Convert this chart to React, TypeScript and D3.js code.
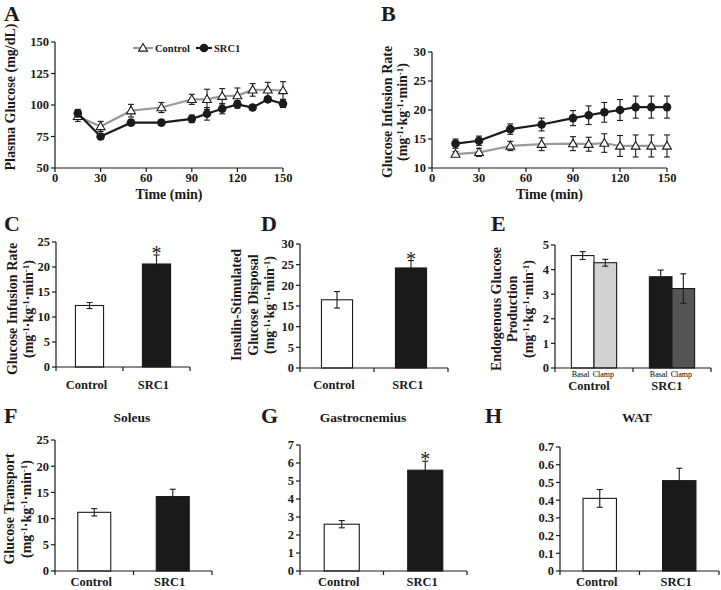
import React from "react";
import * as d3 from "d3";

// ---------- DATA ----------
const timePoints = [15, 30, 50, 70, 90, 100, 110, 120, 130, 140, 150];
const timeTicks = [0, 30, 60, 90, 120, 150];

const glucoseControl = [91, 83, 95.5, 98, 104.5, 104.5, 107, 107.5, 112, 112, 111.5];
const glucoseControlErr = [4, 4, 5, 4, 4, 8, 6, 6, 5, 6, 7];
const glucoseSRC1 = [93.5, 75, 86, 86, 89, 93, 97, 100.5, 98, 104.5, 101];
const glucoseSRC1Err = [3, 2, 2, 2, 3, 5, 4, 3, 2, 2, 3];
const glucoseTicks = [50, 75, 100, 125, 150];

const girControl = [12.4, 12.7, 13.8, 14.1, 14.2, 14.1, 14.3, 13.8, 13.8, 13.8, 13.8];
const girControlErr = [0.4, 0.7, 0.8, 1.1, 1.2, 1.2, 1.6, 1.8, 1.9, 1.9, 1.9];
const girSRC1 = [14.2, 14.7, 16.7, 17.5, 18.6, 19.1, 19.6, 20.0, 20.5, 20.5, 20.5];
const girSRC1Err = [0.8, 0.8, 0.9, 1.1, 1.3, 1.6, 1.7, 1.8, 1.9, 1.9, 1.9];
const girTicks = [10, 15, 20, 25, 30];

const groups = ["Control", "SRC1"];
const girMean = [12.3, 20.6];
const girMeanErr = [0.6, 1.8];
const girMeanTicks = [0, 5, 10, 15, 20, 25];

const disposalMean = [16.5, 24.2];
const disposalErr = [2.0, 1.8];
const disposalTicks = [0, 5, 10, 15, 20, 25, 30];

const egpConditions = ["Basal", "Clamp"];
const egpBasal = [4.57, 3.71];
const egpBasalErr = [0.16, 0.27];
const egpClamp = [4.28, 3.23];
const egpClampErr = [0.14, 0.6];
const egpTicks = [0, 1, 2, 3, 4, 5];

const soleus = [11.2, 14.2];
const soleusErr = [0.7, 1.4];
const soleusTicks = [0, 5, 10, 15, 20, 25];

const gastro = [2.6, 5.6];
const gastroErr = [0.2, 0.5];
const gastroTicks = [0, 1, 2, 3, 4, 5, 6, 7];

const wat = [0.41, 0.51];
const watErr = [0.05, 0.07];
const watTicks = [0, 0.1, 0.2, 0.3, 0.4, 0.5, 0.6, 0.7];

// ---------- STYLE ----------
const FONT = "'Liberation Serif', 'Times New Roman', serif";
const INK = "#1a1a1a";
const TRI_SIZE = 34;

const UnitLabel = () => (
  <>
    (mg<tspan dy={-4} fontSize={9}>-1</tspan>
    <tspan dy={4}>·kg</tspan>
    <tspan dy={-4} fontSize={9}>-1</tspan>
    <tspan dy={4}>·min</tspan>
    <tspan dy={-4} fontSize={9}>-1</tspan>
    <tspan dy={4}>)</tspan>
  </>
);

type YLabelLine = string | "UNIT";

function YLabel({ xs, cy, lines }: { xs: number[]; cy: number; lines: YLabelLine[] }) {
  return (
    <g>
      {lines.map((l, i) => (
        <text
          key={i}
          transform={`translate(${xs[i]},${cy}) rotate(-90)`}
          textAnchor="middle"
          fontSize={14}
          fontWeight="bold"
          fill={INK}
        >
          {l === "UNIT" ? <UnitLabel /> : l}
        </text>
      ))}
    </g>
  );
}

function Letter({ x, y, t }: { x: number; y: number; t: string }) {
  return (
    <text x={x} y={y} fontSize={22} fontWeight="bold" fill={INK}>
      {t}
    </text>
  );
}

function YAxis({ y, x, ticks, fmt }: { y: d3.ScaleLinear<number, number>; x: number; ticks: number[]; fmt?: (v: number) => string }) {
  const r = y.range();
  return (
    <g>
      <line x1={x} x2={x} y1={r[0]} y2={r[1]} stroke={INK} strokeWidth={1.2} />
      {ticks.map((t) => (
        <g key={t}>
          <line x1={x - 4} x2={x} y1={y(t)} y2={y(t)} stroke={INK} strokeWidth={1.2} />
          <text x={x - 6} y={y(t)} dy="0.35em" textAnchor="end" fontSize={12.5} fontWeight="bold" fill={INK}>
            {fmt ? fmt(t) : String(t)}
          </text>
        </g>
      ))}
    </g>
  );
}

// ---------- LINE PANEL ----------
type Series = { values: number[]; errs: number[]; color: string; marker: "tri" | "circle" };

function LinePanel(props: {
  left: number; right: number; top: number; bottom: number;
  yDomain: [number, number]; yTicks: number[]; series: Series[];
}) {
  const { left, right, top, bottom, yDomain, yTicks, series } = props;
  const x = d3.scaleLinear().domain([0, 150]).range([left, right]);
  const y = d3.scaleLinear().domain(yDomain).range([bottom, top]);
  const line = d3.line<number>().x((_, i) => x(timePoints[i])).y((v) => y(v));
  const tri = d3.symbol().type(d3.symbolTriangle).size(TRI_SIZE)();
  return (
    <g>
      <YAxis y={y} x={left} ticks={yTicks} />
      <line x1={left} x2={right} y1={bottom} y2={bottom} stroke={INK} strokeWidth={1.2} />
      {timeTicks.map((t) => (
        <g key={t}>
          <line x1={x(t)} x2={x(t)} y1={bottom} y2={bottom + 4} stroke={INK} strokeWidth={1.2} />
          <text x={x(t)} y={bottom + 14} textAnchor="middle" fontSize={12.5} fontWeight="bold" fill={INK}>
            {t}
          </text>
        </g>
      ))}
      <text x={(left + right) / 2} y={bottom + 31} textAnchor="middle" fontSize={14} fontWeight="bold" fill={INK}>
        Time (min)
      </text>
      {series.map((s, si) => (
        <g key={si}>
          {s.values.map((v, i) => (
            <g key={i} stroke={INK} strokeWidth={1.1}>
              <line x1={x(timePoints[i])} x2={x(timePoints[i])} y1={y(v - s.errs[i])} y2={y(v + s.errs[i])} />
              <line x1={x(timePoints[i]) - 3} x2={x(timePoints[i]) + 3} y1={y(v + s.errs[i])} y2={y(v + s.errs[i])} />
              <line x1={x(timePoints[i]) - 3} x2={x(timePoints[i]) + 3} y1={y(v - s.errs[i])} y2={y(v - s.errs[i])} />
            </g>
          ))}
          <path d={line(s.values) || ""} fill="none" stroke={s.color} strokeWidth={2.2} />
          {s.values.map((v, i) =>
            s.marker === "circle" ? (
              <circle key={i} cx={x(timePoints[i])} cy={y(v)} r={4.3} fill={INK} />
            ) : (
              <path key={i} d={tri || ""} transform={`translate(${x(timePoints[i])},${y(v) + 0.6})`} fill="#fff" stroke={INK} strokeWidth={1.1} />
            )
          )}
        </g>
      ))}
    </g>
  );
}

// ---------- BAR PANEL ----------
function BarPanel(props: {
  left: number; right: number; top: number; bottom: number;
  yDomain: [number, number]; yTicks: number[]; values: number[]; errs: number[];
  star?: boolean; fmt?: (v: number) => string; labelGap: number;
}) {
  const { left, right, top, bottom, yDomain, yTicks, values, errs, star, fmt, labelGap } = props;
  const x = d3.scaleBand<string>().domain(groups).range([left, right]).paddingInner(0.58).paddingOuter(0.29);
  const y = d3.scaleLinear().domain(yDomain).range([bottom, top]);
  const fills = ["#ffffff", INK];
  const bw = x.bandwidth();
  return (
    <g>
      {groups.map((g, i) => {
        const cx = (x(g) as number) + bw / 2;
        const v = values[i];
        const e = errs[i];
        return (
          <g key={g}>
            <rect x={x(g)} y={y(v)} width={bw} height={bottom - y(v)} fill={fills[i]} stroke={INK} strokeWidth={1.1} />
            <g stroke={INK} strokeWidth={1.1}>
              <line x1={cx} x2={cx} y1={y(v - e)} y2={y(v + e)} />
              <line x1={cx - 3} x2={cx + 3} y1={y(v + e)} y2={y(v + e)} />
              {i === 0 && <line x1={cx - 3} x2={cx + 3} y1={y(v - e)} y2={y(v - e)} />}
            </g>
            <text x={cx - 3} y={bottom + labelGap} textAnchor="middle" fontSize={12.5} fontWeight="bold" fill={INK}>
              {g}
            </text>
            {star && i === 1 && (
              <text x={cx} y={y(v + e) + 5} textAnchor="middle" fontSize={20} fill={INK}>
                *
              </text>
            )}
          </g>
        );
      })}
      <YAxis y={y} x={left} ticks={yTicks} fmt={fmt} />
      <line x1={left} x2={right} y1={bottom} y2={bottom} stroke={INK} strokeWidth={1.2} />
      {[left, (left + right) / 2, right].map((t, i) => (
        <line key={i} x1={t} x2={t} y1={bottom} y2={bottom + 4} stroke={INK} strokeWidth={1.2} />
      ))}
    </g>
  );
}

// ---------- GROUPED PANEL (E) ----------
function GroupedPanel(props: { left: number; right: number; top: number; bottom: number }) {
  const { left, right, top, bottom } = props;
  const x0 = d3.scaleBand<string>().domain(groups).range([left, right]).paddingInner(0.42).paddingOuter(0.21);
  const x1 = d3.scaleBand<string>().domain(egpConditions).range([0, x0.bandwidth()]);
  const y = d3.scaleLinear().domain([0, 5]).range([bottom, top]);
  const fills = [
    ["#ffffff", "#d2d2d2"],
    [INK, "#555555"],
  ];
  const vals = [egpBasal, egpClamp];
  const errs = [egpBasalErr, egpClampErr];
  return (
    <g>
      {groups.map((g, gi) => (
        <g key={g}>
          {egpConditions.map((c, ci) => {
            const bx = (x0(g) as number) + (x1(c) as number);
            const bw = x1.bandwidth();
            const v = vals[ci][gi];
            const e = errs[ci][gi];
            const cx = bx + bw / 2;
            return (
              <g key={c}>
                <rect x={bx} y={y(v)} width={bw} height={bottom - y(v)} fill={fills[gi][ci]} stroke={INK} strokeWidth={1.1} />
                <g stroke={INK} strokeWidth={1.1}>
                  <line x1={cx} x2={cx} y1={y(v - e)} y2={y(v + e)} />
                  <line x1={cx - 3} x2={cx + 3} y1={y(v + e)} y2={y(v + e)} />
                  <line x1={cx - 3} x2={cx + 3} y1={y(v - e)} y2={y(v - e)} />
                </g>
                <text x={cx - 2} y={bottom + 8.5} textAnchor="middle" fontSize={8} fill="#000">
                  {c}
                </text>
              </g>
            );
          })}
          <text x={(x0(g) as number) + x0.bandwidth() / 2 - 5} y={bottom + 22} textAnchor="middle" fontSize={12.5} fontWeight="bold" fill={INK}>
            {g}
          </text>
        </g>
      ))}
      <YAxis y={y} x={left} ticks={egpTicks} />
      <line x1={left} x2={right} y1={bottom} y2={bottom} stroke={INK} strokeWidth={1.2} />
      {[left, (left + right) / 2, right].map((t, i) => (
        <line key={i} x1={t} x2={t} y1={bottom} y2={bottom + 4} stroke={INK} strokeWidth={1.2} />
      ))}
    </g>
  );
}

function Title({ x, y, t }: { x: number; y: number; t: string }) {
  return (
    <text x={x} y={y} textAnchor="middle" fontSize={13.5} fontWeight="bold" fill={INK}>
      {t}
    </text>
  );
}

export default function App() {
  const tri = d3.symbol().type(d3.symbolTriangle).size(TRI_SIZE)();
  return (
    <svg
      width={721}
      height={590}
      viewBox="0 0 721 590"
      style={{ position: "absolute", left: 0, top: 0, background: "#fff" }}
      fontFamily={FONT}
    >
      <rect width={721} height={590} fill="#fff" />

      {/* A */}
      <Letter x={4} y={21} t="A" />
      <YLabel xs={[15]} cy={97} lines={["Plasma Glucose (mg/dL)"]} />
      <LinePanel
        left={55} right={283} top={42} bottom={168}
        yDomain={[50, 150]} yTicks={glucoseTicks}
        series={[
          { values: glucoseControl, errs: glucoseControlErr, color: "#9a9a9a", marker: "tri" },
          { values: glucoseSRC1, errs: glucoseSRC1Err, color: INK, marker: "circle" },
        ]}
      />
      <g>
        <line x1={133} x2={153} y1={48} y2={48} stroke="#9a9a9a" strokeWidth={2.2} />
        <path d={tri || ""} transform="translate(143,48.6)" fill="#fff" stroke={INK} strokeWidth={1.1} />
        <text x={155} y={51.5} fontSize={10.5} fontWeight="bold" fill={INK}>Control</text>
        <line x1={196} x2={212} y1={48} y2={48} stroke={INK} strokeWidth={2.2} />
        <circle cx={204} cy={48} r={4.3} fill={INK} />
        <text x={214} y={51.5} fontSize={10.5} fontWeight="bold" fill={INK}>SRC1</text>
      </g>

      {/* B */}
      <Letter x={381} y={21} t="B" />
      <YLabel xs={[392, 407]} cy={112} lines={["Glucose Infusion Rate", "UNIT"]} />
      <LinePanel
        left={432} right={667} top={52} bottom={168}
        yDomain={[10, 30]} yTicks={girTicks}
        series={[
          { values: girControl, errs: girControlErr, color: "#9a9a9a", marker: "tri" },
          { values: girSRC1, errs: girSRC1Err, color: INK, marker: "circle" },
        ]}
      />

      {/* C */}
      <Letter x={4} y={231} t="C" />
      <YLabel xs={[17, 33]} cy={309} lines={["Glucose Infusion Rate", "UNIT"]} />
      <BarPanel left={56} right={190} top={242} bottom={367} yDomain={[0, 25]} yTicks={girMeanTicks} values={girMean} errs={girMeanErr} star labelGap={22} />

      {/* D */}
      <Letter x={261} y={231} t="D" />
      <YLabel xs={[241, 258, 274]} cy={305} lines={["Insulin-Stimulated", "Glucose Disposal", "UNIT"]} />
      <BarPanel left={300} right={448} top={244} bottom={368} yDomain={[0, 30]} yTicks={disposalTicks} values={disposalMean} errs={disposalErr} star labelGap={21} />

      {/* E */}
      <Letter x={491} y={231} t="E" />
      <YLabel xs={[501, 517, 533]} cy={309} lines={["Endogenous Glucose", "Production", "UNIT"]} />
      <GroupedPanel left={555} right={711} top={245} bottom={368} />

      {/* F */}
      <Letter x={4} y={423} t="F" />
      <Title x={132} y={422} t="Soleus" />
      <YLabel xs={[14, 31]} cy={509} lines={["Glucose Transport", "UNIT"]} />
      <BarPanel left={55} right={212} top={440} bottom={571} yDomain={[0, 25]} yTicks={soleusTicks} values={soleus} errs={soleusErr} labelGap={15} />

      {/* G */}
      <Letter x={261} y={423} t="G" />
      <Title x={363} y={422} t="Gastrocnemius" />
      <BarPanel left={300} right={467} top={445} bottom={571} yDomain={[0, 7]} yTicks={gastroTicks} values={gastro} errs={gastroErr} star labelGap={15} />

      {/* H */}
      <Letter x={485} y={423} t="H" />
      <Title x={637} y={422} t="WAT" />
      <BarPanel
        left={560} right={719} top={447} bottom={571}
        yDomain={[0, 0.7]} yTicks={watTicks} values={wat} errs={watErr}
        fmt={(v) => (v === 0 ? "0" : v.toFixed(1))} labelGap={15}
      />
    </svg>
  );
}
